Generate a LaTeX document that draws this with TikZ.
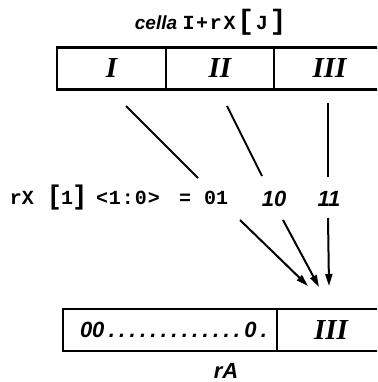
\documentclass[tikz,border=0pt]{standalone}
\usepackage{fontspec}
\setmainfont{Liberation Serif}
\newfontfamily\monof{Liberation Mono}
\newfontfamily\sansf{Liberation Sans}
\usetikzlibrary{arrows.meta}
\begin{document}
\begin{tikzpicture}[x=1pt,y=-1pt,
  cellbox/.style={draw, line width=2.5pt, rectangle, inner sep=0pt, minimum height=42pt},
  roman/.style={font=\fontsize{29}{29}\selectfont\bfseries\itshape},
  ital/.style={font=\sansf\fontsize{22}{22}\selectfont\bfseries\itshape, inner sep=0pt},
  mono/.style={font=\monof\fontsize{20}{20}\selectfont\bfseries, inner sep=0pt},
  conn/.style={line width=2pt},
  arr/.style={conn, -{Triangle[length=12pt,width=7pt]}}]
\useasboundingbox (0,0) rectangle (377,382);
\clip (0,0) rectangle (377,382);
% top cell
\node[cellbox, roman, minimum width=109pt] (cI) at (111.5,68.5) {I};
\node[cellbox, roman, minimum width=108pt] (cII) at (220,68.5) {II};
\node[cellbox, roman, minimum width=111pt] (cIII) at (329.5,68.5) {III};
% title
\node[ital, font=\sansf\fontsize{19}{19}\selectfont\bfseries\itshape, anchor=base] (tcella) at (156,30) {cella};
\node[mono, font=\monof\fontsize{20}{20}\selectfont\bfseries, anchor=base] (tidx) at (234.5,30) {\makebox[104pt][s]{I\hfil+\hfil r\hfil X\hfil{\fontsize{28}{28}\selectfont[}\hfil J\hfil{\fontsize{28}{28}\selectfont]}}};
% row labels
\node[mono, anchor=base] (lrx) at (22,204) {rX};
\node[mono, anchor=base] (lidx) at (67,204) {\makebox[34pt][s]{{\sansf\fontsize{27}{27}\selectfont[}\hfil 1\hfil{\sansf\fontsize{27}{27}\selectfont]}}};
\node[mono, anchor=base] (lbits) at (128,204) {\makebox[64pt][s]{<\hfil 1\hfil :\hfil 0\hfil >}};
\node[mono, anchor=base] (leq) at (185,204) {=};
\node[mono, anchor=base] (l01) at (216,204) {01};
\node[ital, anchor=base] (l10) at (274,206) {10};
\node[ital, anchor=base] (l11) at (329,206) {11};
% bottom register
\node[cellbox, minimum width=214pt, font=\sansf\fontsize{22}{22}\selectfont\bfseries\itshape] (rz) at (170,330)
  {\hspace*{7pt}\makebox[187pt][s]{00\hfil.\hfil.\hfil.\hfil.\hfil.\hfil.\hfil.\hfil.\hfil.\hfil.\hfil.\hfil.\hfil.\hfil 0\hfil.}};
\node[cellbox, roman, minimum width=108pt] (rIII) at (331,330) {III};
\node[ital, anchor=base] (lrA) at (226,378) {rA};
% connector ends
\coordinate (a1) at (126,106);
\coordinate (b1) at (198,178);
\coordinate (a2) at (227,106);
\coordinate (b2) at (262,176);
\coordinate (a3) at (328,103);
\coordinate (b3) at (328,177);
\coordinate (c1) at (240,220);
\coordinate (d1) at (308,286);
\coordinate (c2) at (283,220);
\coordinate (d2) at (319,287);
\coordinate (c3) at (328,218);
\coordinate (d3) at (329,286);
\draw[conn] (a1) -- (b1);
\draw[conn] (a2) -- (b2);
\draw[conn] (a3) -- (b3);
\draw[arr] (c1) -- (d1);
\draw[arr] (c2) -- (d2);
\draw[arr] (c3) -- (d3);
\end{tikzpicture}
\end{document}
